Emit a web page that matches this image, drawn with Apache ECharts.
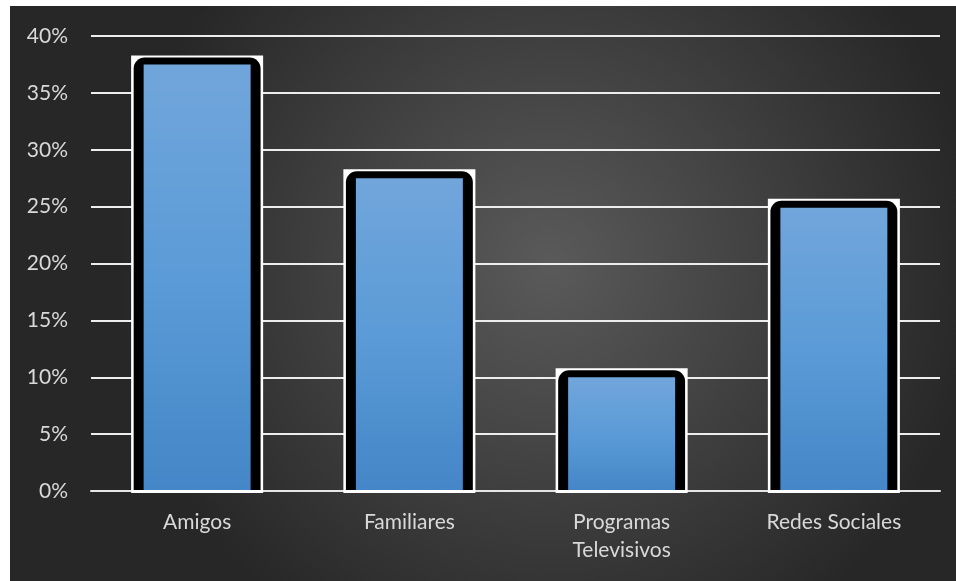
<!DOCTYPE html>
<html>
<head>
<meta charset="utf-8">
<script src="https://cdn.jsdelivr.net/npm/echarts@6/dist/echarts.min.js"></script>
<style>
  html, body { margin: 0; padding: 0; background: #ffffff; }
  #chart { position: absolute; left: 10px; top: 6px; width: 946px; height: 575px; }
</style>
</head>
<body>
<div id="chart"></div>
<script>
// Source of information, share of respondents
const categories = ['Amigos', 'Familiares', 'Programas\nTelevisivos', 'Redes Sociales'];
const shares = [37.8, 27.8, 10.3, 25.2];
const yTicks = [0, 5, 10, 15, 20, 25, 30, 35, 40];

const chart = echarts.init(document.getElementById('chart'));

const blueFill = new echarts.graphic.LinearGradient(0, 0, 0, 1, [
  { offset: 0, color: '#71a6db' },
  { offset: 0.5, color: '#5b9bd7' },
  { offset: 1, color: '#4486c7' }
]);

// Each bar: white backing box, thick black rounded frame, blue gradient core
function renderBar(params, api) {
  const idx = api.value(0);
  const val = api.value(1);
  const topPt = api.coord([idx, val]);
  const basePt = api.coord([idx, 0]);
  const band = api.size([1, 0])[0];
  const cx = topPt[0];
  const top = topPt[1];
  const base = basePt[1];

  const whiteHalf = band * 0.311;
  const blackHalf = band * 0.299;
  const blueHalf = band * 0.252;

  return {
    type: 'group',
    children: [
      {
        type: 'rect',
        shape: { x: cx - whiteHalf, y: top - 5.5, width: whiteHalf * 2, height: base + 2 - (top - 5.5) },
        style: { fill: '#ffffff' }
      },
      {
        type: 'rect',
        shape: { x: cx - blackHalf, y: top - 3.5, width: blackHalf * 2, height: base - 1 - (top - 3.5), r: [11, 11, 0, 0] },
        style: { fill: '#000000' }
      },
      {
        type: 'rect',
        shape: { x: cx - blueHalf, y: top + 3.5, width: blueHalf * 2, height: base - 1 - (top + 3.5) },
        style: { fill: blueFill }
      }
    ]
  };
}

chart.setOption({
  animation: false,
  backgroundColor: {
    type: 'radial', x: 0.57, y: 0.45, r: 0.75,
    colorStops: [
      { offset: 0, color: '#5a5a5a' },
      { offset: 1, color: '#272727' }
    ]
  },
  grid: { left: 81, right: 16, top: 30, bottom: 90, containLabel: false },
  xAxis: {
    type: 'category',
    data: categories,
    axisLine: { show: true, lineStyle: { color: '#e6e6e6', width: 2 } },
    axisTick: { show: false },
    axisLabel: {
      color: '#d9d9d9', fontFamily: 'Lato, "Open Sans", sans-serif', fontSize: 21,
      lineHeight: 28, margin: 17, interval: 0
    }
  },
  yAxis: {
    type: 'value',
    min: yTicks[0],
    max: yTicks[yTicks.length - 1],
    interval: 5,
    axisLine: { show: false },
    axisTick: { show: false },
    splitLine: { lineStyle: { color: '#ededed', width: 2 } },
    axisLabel: {
      color: '#d9d9d9', fontFamily: 'Lato, "Open Sans", sans-serif', fontSize: 21,
      margin: 23, formatter: v => v + '%'
    }
  },
  series: [{
    type: 'custom',
    renderItem: renderBar,
    encode: { x: 0, y: 1 },
    data: shares.map((v, i) => [i, v]),
    clip: false
  }]
});
</script>
</body>
</html>
